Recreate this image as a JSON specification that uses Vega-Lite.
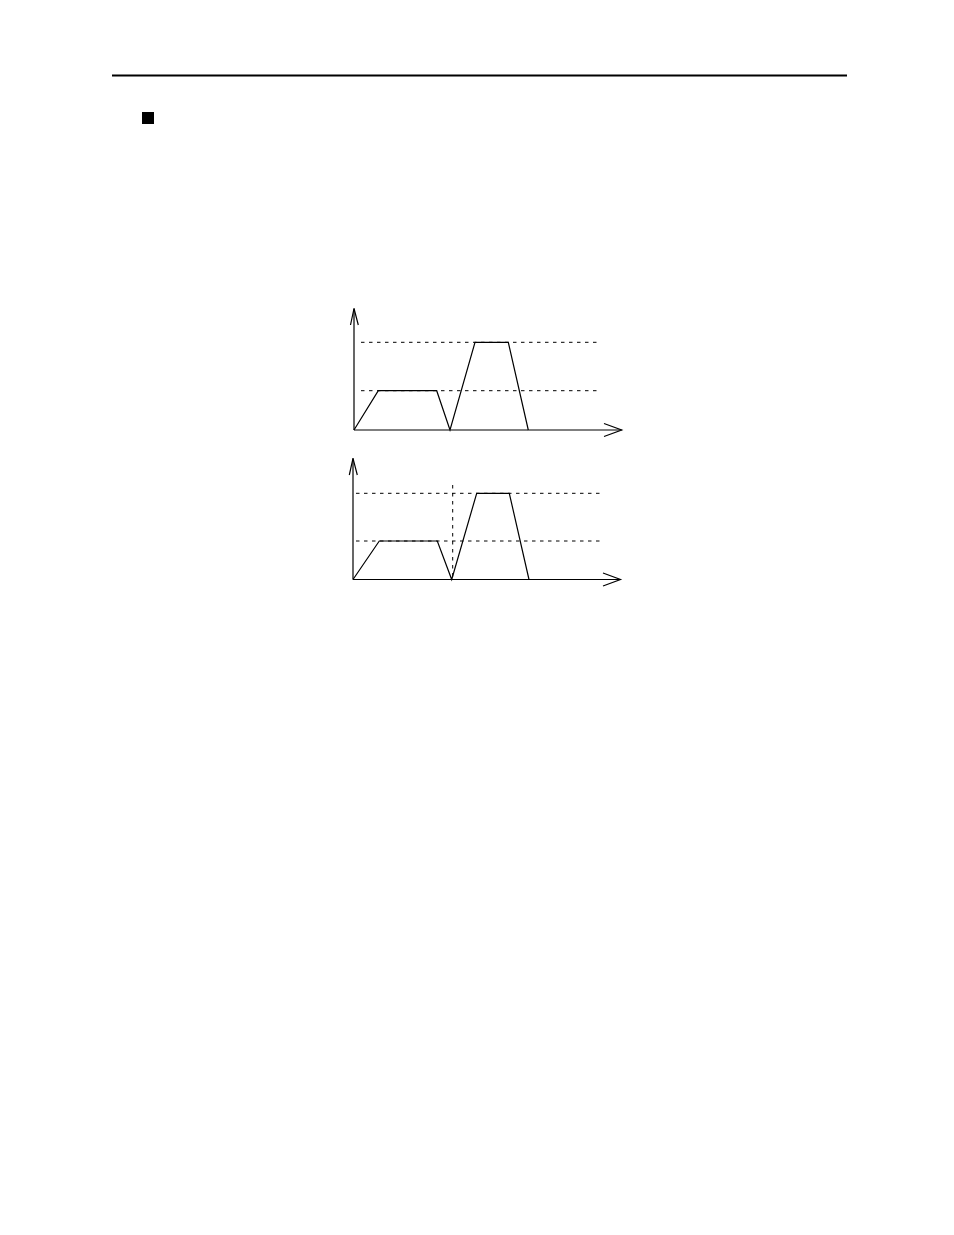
{
  "$schema": "https://vega.github.io/schema/vega-lite/v6.json",
  "width": 954,
  "height": 1235,
  "autosize": {"type": "fit", "contains": "padding"},
  "padding": 0,
  "background": "white",
  "config": {"view": {"stroke": null}},
  "datasets": {
    "paths": [
      {"path": "yaxis1", "i": 0, "x": 354, "y": 430},
      {"path": "yaxis1", "i": 1, "x": 354, "y": 308.5},
      {"path": "yarrow1", "i": 0, "x": 350.5, "y": 325},
      {"path": "yarrow1", "i": 1, "x": 354, "y": 308.5},
      {"path": "yarrow1", "i": 2, "x": 358.3, "y": 325},
      {"path": "xaxis1", "i": 0, "x": 354, "y": 430},
      {"path": "xaxis1", "i": 1, "x": 621.7, "y": 430},
      {"path": "xarrow1", "i": 0, "x": 604, "y": 423.5},
      {"path": "xarrow1", "i": 1, "x": 621.7, "y": 430},
      {"path": "xarrow1", "i": 2, "x": 604, "y": 436.5},
      {"path": "profile1", "i": 0, "x": 354, "y": 430},
      {"path": "profile1", "i": 1, "x": 378.3, "y": 390.7},
      {"path": "profile1", "i": 2, "x": 436.7, "y": 390.7},
      {"path": "profile1", "i": 3, "x": 450, "y": 430},
      {"path": "profile1", "i": 4, "x": 475, "y": 342.3},
      {"path": "profile1", "i": 5, "x": 508.3, "y": 342.3},
      {"path": "profile1", "i": 6, "x": 528.3, "y": 430},
      {"path": "yaxis2", "i": 0, "x": 353, "y": 579.5},
      {"path": "yaxis2", "i": 1, "x": 353, "y": 458.3},
      {"path": "yarrow2", "i": 0, "x": 349.3, "y": 475},
      {"path": "yarrow2", "i": 1, "x": 353, "y": 458.3},
      {"path": "yarrow2", "i": 2, "x": 357.3, "y": 475},
      {"path": "xaxis2", "i": 0, "x": 353, "y": 579.5},
      {"path": "xaxis2", "i": 1, "x": 620.5, "y": 579.5},
      {"path": "xarrow2", "i": 0, "x": 603, "y": 573},
      {"path": "xarrow2", "i": 1, "x": 620.5, "y": 579.5},
      {"path": "xarrow2", "i": 2, "x": 603, "y": 586},
      {"path": "profile2", "i": 0, "x": 353, "y": 579.5},
      {"path": "profile2", "i": 1, "x": 379.3, "y": 541},
      {"path": "profile2", "i": 2, "x": 437.3, "y": 541},
      {"path": "profile2", "i": 3, "x": 451.7, "y": 579.5},
      {"path": "profile2", "i": 4, "x": 476.7, "y": 493.3},
      {"path": "profile2", "i": 5, "x": 509.3, "y": 493.3},
      {"path": "profile2", "i": 6, "x": 529, "y": 579.5}
    ],
    "dashes": [
      {"x": 361, "x2": 598, "y": 342.3, "y2": 342.3},
      {"x": 361, "x2": 598, "y": 390.7, "y2": 390.7},
      {"x": 356, "x2": 600, "y": 493.3, "y2": 493.3},
      {"x": 356, "x2": 600, "y": 541, "y2": 541},
      {"x": 452.7, "x2": 452.7, "y": 485, "y2": 579.5}
    ],
    "header": [{"x": 112, "x2": 847, "y": 75.5, "y2": 75.5}],
    "bullet": [{"x": 142, "x2": 154, "y": 112, "y2": 124}]
  },
  "layer": [
    {
      "data": {"name": "header"},
      "mark": {"type": "rule", "color": "black", "strokeWidth": 2},
      "encoding": {
        "x": {"field": "x", "type": "quantitative", "scale": {"domain": [0, 954]}, "axis": null},
        "x2": {"field": "x2"},
        "y": {"field": "y", "type": "quantitative", "scale": {"domain": [0, 1235], "reverse": true}, "axis": null},
        "y2": {"field": "y2"}
      }
    },
    {
      "data": {"name": "bullet"},
      "mark": {"type": "rect", "color": "black"},
      "encoding": {
        "x": {"field": "x", "type": "quantitative", "scale": {"domain": [0, 954]}, "axis": null},
        "x2": {"field": "x2"},
        "y": {"field": "y", "type": "quantitative", "scale": {"domain": [0, 1235], "reverse": true}, "axis": null},
        "y2": {"field": "y2"}
      }
    },
    {
      "data": {"name": "dashes"},
      "mark": {"type": "rule", "color": "black", "strokeWidth": 1, "strokeDash": [3.5, 4.5]},
      "encoding": {
        "x": {"field": "x", "type": "quantitative", "scale": {"domain": [0, 954]}, "axis": null},
        "x2": {"field": "x2"},
        "y": {"field": "y", "type": "quantitative", "scale": {"domain": [0, 1235], "reverse": true}, "axis": null},
        "y2": {"field": "y2"}
      }
    },
    {
      "data": {"name": "paths"},
      "mark": {"type": "line", "color": "black", "strokeWidth": 1.2},
      "encoding": {
        "x": {"field": "x", "type": "quantitative", "scale": {"domain": [0, 954]}, "axis": null},
        "y": {"field": "y", "type": "quantitative", "scale": {"domain": [0, 1235], "reverse": true}, "axis": null},
        "detail": {"field": "path", "type": "nominal"},
        "order": {"field": "i", "type": "quantitative"}
      }
    }
  ]
}
